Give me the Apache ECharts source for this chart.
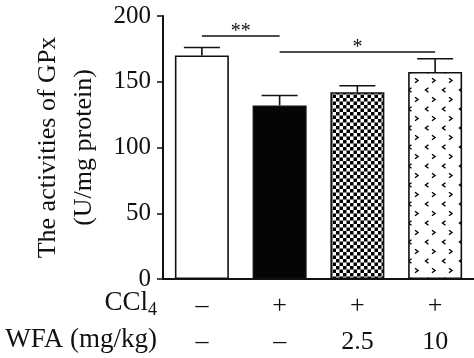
<!DOCTYPE html>
<html><head><meta charset="utf-8">
<script src="https://cdn.jsdelivr.net/npm/echarts@6/dist/echarts.min.js"></script>
<style>html,body{margin:0;padding:0;background:#fff}#c{width:474px;height:358px}</style>
</head><body><div id="c"></div>
<script>
var ccl4Labels = ['–', '+', '+', '+'];
var wfaLabels = ['–', '–', '2.5', '10'];
var gpxMeans = [170, 132, 142, 157.5];
var gpxErrors = [6, 7.5, 5, 10];
var yTicks = [0, 50, 100, 150, 200];
var sigPairs = [{from: 0, to: 1, y: 185, text: '**'}, {from: 1, to: 3, y: 172.5, text: '*'}];

var FONT = '"Liberation Serif", "DejaVu Serif", serif';

function checker() {
  var c = document.createElement('canvas'); c.width = 7; c.height = 7;
  var g = c.getContext('2d'); g.fillStyle = '#fff'; g.fillRect(0,0,7,7);
  g.fillStyle = '#000'; g.fillRect(0,0,3.5,3.5); g.fillRect(3.5,3.5,3.5,3.5);
  return c;
}
function chevrons() {
  var w = 17, h = 19;
  var c = document.createElement('canvas'); c.width = w; c.height = h;
  var g = c.getContext('2d'); g.fillStyle = '#fff'; g.fillRect(0,0,w,h);
  g.strokeStyle = '#000'; g.lineWidth = 1.4;
  function gt(x, y) { g.beginPath(); g.moveTo(x-1.5, y-2.2); g.lineTo(x+1.5, y); g.lineTo(x-1.5, y+2.2); g.stroke(); }
  function lt(x, y) { g.beginPath(); g.moveTo(x+1.5, y-2.2); g.lineTo(x-1.5, y); g.lineTo(x+1.5, y+2.2); g.stroke(); }
  gt(8.5, 4.5);
  lt(2, 14); lt(19, 14);
  return c;
}
var fills = ['#ffffff', '#050505', {image: checker(), repeat: 'repeat'}, {image: chevrons(), repeat: 'repeat'}];

var chart = echarts.init(document.getElementById('c'), null, {renderer: 'canvas'});
var cats = ccl4Labels.map(function (a, i) { return i; });

chart.setOption({
  animation: false,
  grid: {left: 163, right: 0, top: 16, bottom: 79},
  xAxis: {
    type: 'category', data: cats,
    axisLine: {lineStyle: {color: '#111', width: 2}},
    axisTick: {alignWithLabel: true, length: 7, lineStyle: {color: '#111', width: 1.5}},
    axisLabel: {
      margin: 9,
      formatter: function (v, i) { return '{a|' + ccl4Labels[i] + '}\n{b|' + wfaLabels[i] + '}'; },
      rich: {
        a: {fontFamily: FONT, fontSize: 26, color: '#111', lineHeight: 36},
        b: {fontFamily: FONT, fontSize: 26, color: '#111', lineHeight: 36}
      }
    }
  },
  yAxis: {
    type: 'value', min: 0, max: 200, interval: 50,
    axisLine: {show: true, lineStyle: {color: '#111', width: 2}},
    axisTick: {show: true, length: 6, lineStyle: {color: '#111', width: 1.5}},
    splitLine: {show: false},
    axisLabel: {fontFamily: FONT, fontSize: 25, color: '#111', margin: 12,
      formatter: function (v) { return yTicks.indexOf(v) >= 0 ? String(v) : ''; }},
    name: 'The activities of GPx\n(U/mg protein)',
    nameLocation: 'middle', nameRotate: 90, nameGap: 57,
    nameTextStyle: {fontFamily: FONT, fontSize: 26, color: '#111', lineHeight: 36, align: 'center'}
  },
  series: [{
    type: 'bar', barWidth: 54,
    data: gpxMeans.map(function (v, i) {
      return {value: v, itemStyle: {color: fills[i], borderColor: '#111', borderWidth: 1.6}};
    }),
    markLine: {
      silent: true, symbol: 'none',
      lineStyle: {color: '#111', width: 1.5, type: 'solid'},
      label: {show: true, position: 'middle', fontFamily: FONT, fontSize: 20, color: '#111', distance: -6},
      data: sigPairs.map(function (s) {
        return [{coord: [s.from, s.y], name: s.text, label: {formatter: s.text}}, {coord: [s.to, s.y]}];
      })
    }
  }, {
    type: 'custom',
    data: gpxMeans.map(function (v, i) { return [i, v, v + gpxErrors[i]]; }),
    renderItem: function (params, api) {
      var b = api.coord([api.value(0), api.value(1)]);
      var t = api.coord([api.value(0), api.value(2)]);
      var hw = 18;
      return {type: 'group', children: [
        {type: 'line', shape: {x1: b[0], y1: b[1], x2: t[0], y2: t[1]}, style: {stroke: '#111', lineWidth: 1.6}},
        {type: 'line', shape: {x1: t[0]-hw, y1: t[1], x2: t[0]+hw, y2: t[1]}, style: {stroke: '#111', lineWidth: 1.6}}
      ]};
    },
    z: 3
  }],
  graphic: [
    {type: 'text', right: 474-157, top: 289, style: {text: '{m|CCl}{s|4}', rich: {
      m: {fontFamily: FONT, fontSize: 27, fill: '#111'},
      s: {fontFamily: FONT, fontSize: 18, fill: '#111', padding: [16, 0, 0, 0]}
    }}},
    {type: 'text', right: 474-157, top: 326, style: {text: 'WFA (mg/kg)', fontFamily: FONT, fontSize: 27, fill: '#111'}}
  ]
});
</script></body></html>
